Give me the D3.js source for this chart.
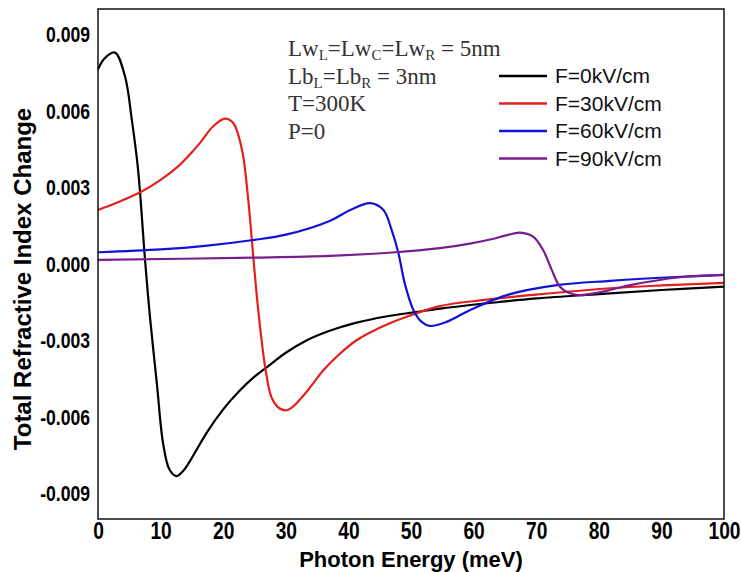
<!DOCTYPE html>
<html>
<head>
<meta charset="utf-8">
<script src="https://cdn.jsdelivr.net/npm/d3@7"></script>
<style>
  body { margin: 0; background: #fff; }
  svg { display: block; }
</style>
</head>
<body>
<div id="chart"></div>
<script>
var w = 741;
var h = 572;
var margin = {top: 9, right: 17, bottom: 53, left: 98};

// values (photon energy in meV, index change)
var e0 = [0, 1, 2.7, 4.3, 5.4, 6.4, 7.5, 8.3, 9.4, 10.4, 11.4, 12.5, 13.6, 15, 17.4, 20, 22.5, 25, 27.5, 30, 33.3, 37, 41.3, 46, 50.9, 55, 62.6, 70, 80, 90, 100];
var v0 = [0.00763, 0.00805, 0.00829, 0.00737, 0.00566, 0.0037, 0.0002, -0.00207, -0.00468, -0.00704, -0.00805, -0.00832, -0.00812, -0.0076, -0.0066, -0.0057, -0.0050, -0.00442, -0.00395, -0.00348, -0.00300, -0.00262, -0.00230, -0.00206, -0.00188, -0.00174, -0.00153, -0.00135, -0.00118, -0.00102, -0.00089];

var e30 = [0, 3, 6.9, 10, 12.8, 14.5, 16.3, 18.4, 20.3, 21.6, 23.0, 24.0, 24.8, 25.6, 26.7, 27.7, 28.7, 29.9, 31, 32.3, 33.2, 34, 36, 38.5, 41.3, 45, 49.3, 54.6, 62, 70, 81.8, 90, 100];
var v30 = [0.00212, 0.0024, 0.00283, 0.0033, 0.00383, 0.00425, 0.00475, 0.0054, 0.0057, 0.00553, 0.00448, 0.00252, 0.00029, -0.00181, -0.00404, -0.00522, -0.0056, -0.00574, -0.00562, -0.0053, -0.00505, -0.0048, -0.00417, -0.00355, -0.00299, -0.0025, -0.00207, -0.00165, -0.0014, -0.0012, -0.00095, -0.00084, -0.00074];

var e60 = [0, 10, 17.1, 24.8, 30, 37.1, 40.3, 43.5, 45.6, 46.9, 48.0, 49.0, 50.4, 51.7, 53.0, 55.7, 59.4, 65.3, 73.3, 81.8, 93.1, 100];
var v60 = [0.00046, 0.00057, 0.00071, 0.00094, 0.00115, 0.0017, 0.00212, 0.00239, 0.00212, 0.00134, 0.00042, -0.00076, -0.00181, -0.00227, -0.00243, -0.00227, -0.00181, -0.00122, -0.00083, -0.00066, -0.0005, -0.00043];

var e90 = [0, 24.8, 37.1, 47, 54.6, 59.4, 63, 65.3, 67.4, 69.5, 71.1, 72.5, 73.8, 75.4, 77, 79.7, 81.8, 85, 93, 100];
var v90 = [0.00016, 0.00025, 0.00032, 0.00045, 0.00062, 0.0008, 0.00098, 0.00113, 0.00123, 0.00107, 0.00055, -0.00024, -0.00089, -0.00115, -0.00122, -0.00113, -0.00102, -0.00083, -0.00052, -0.00043];

var seriesNames = ["F=0kV/cm", "F=30kV/cm", "F=60kV/cm", "F=90kV/cm"];
var seriesColors = ["#000000", "#e3201c", "#1212d6", "#7a1d8c"];
var xTicks = [0, 10, 20, 30, 40, 50, 60, 70, 80, 90, 100];
var yTicks = [-0.009, -0.006, -0.003, 0, 0.003, 0.006, 0.009];

var series = [[e0, v0], [e30, v30], [e60, v60], [e90, v90]].map(function(s, i) {
   return {
      name: seriesNames[i],
      color: seriesColors[i],
      points: s[0].map(function(e, j) { return {x: e, y: s[1][j]}; })
   };
});

var svg = d3.select("#chart")
            .append("svg")
            .attr("width", w)
            .attr("height", h);

var x = d3.scaleLinear().domain([0, 100]).range([margin.left, w - margin.right]);
var y = d3.scaleLinear().domain([-0.010, 0.010]).range([h - margin.bottom, margin.top]);

var fmtY = d3.format(".3f");

// x tick labels (narrow, tall digits)
svg.append("g")
   .attr("transform", "translate(0," + (h - margin.bottom) + ")")
   .call(d3.axisBottom(x).tickValues(xTicks).tickSize(0).tickPadding(3).tickFormat(d3.format("d")))
   .call(function(g) { g.select(".domain").remove(); })
   .selectAll("text")
   .attr("font-family", "Liberation Sans, Arial, sans-serif")
   .attr("font-weight", "bold")
   .attr("font-size", 24)
   .attr("transform", "scale(0.8,1)")
   .attr("fill", "#000");

// y tick labels
svg.append("g")
   .attr("transform", "translate(" + margin.left + ",0)")
   .call(d3.axisLeft(y).tickValues(yTicks).tickSize(0).tickPadding(10)
           .tickFormat(function(d) { return fmtY(d).replace("\u2212", "-"); }))
   .call(function(g) { g.select(".domain").remove(); })
   .selectAll("text")
   .attr("font-family", "Liberation Sans, Arial, sans-serif")
   .attr("font-weight", "bold")
   .attr("font-size", 22)
   .attr("transform", "scale(0.8,1)")
   .attr("fill", "#000");

var line = d3.line()
             .x(function(d) { return x(d.x); })
             .y(function(d) { return y(d.y); })
             .curve(d3.curveCatmullRom.alpha(0.5));

svg.append("g")
   .selectAll("path")
   .data(series)
   .join("path")
   .attr("d", function(d) { return line(d.points); })
   .attr("fill", "none")
   .attr("stroke", function(d) { return d.color; })
   .attr("stroke-width", 2.2);

// frame
svg.append("rect")
   .attr("x", margin.left)
   .attr("y", margin.top)
   .attr("width", w - margin.left - margin.right)
   .attr("height", h - margin.top - margin.bottom)
   .attr("fill", "none")
   .attr("stroke", "#111")
   .attr("stroke-width", 1.5);

// axis titles
svg.append("text")
   .attr("x", 411)
   .attr("y", 567)
   .attr("text-anchor", "middle")
   .attr("font-family", "Liberation Sans, Arial, sans-serif")
   .attr("font-weight", "bold")
   .attr("font-size", 22)
   .text("Photon Energy (meV)");

svg.append("text")
   .attr("transform", "translate(31,279) rotate(-90)")
   .attr("text-anchor", "middle")
   .attr("font-family", "Liberation Sans, Arial, sans-serif")
   .attr("font-weight", "bold")
   .attr("font-size", 24)
   .text("Total Refractive Index Change");

// parameter notes
var notes = [
   [["Lw", 0], ["L", 1], ["=Lw", 0], ["C", 1], ["=Lw", 0], ["R", 1], [" = 5nm", 0]],
   [["Lb", 0], ["L", 1], ["=Lb", 0], ["R", 1], [" = 3nm", 0]],
   [["T=300K", 0]],
   [["P=0", 0]]
];

notes.forEach(function(parts, i) {
   var t = svg.append("text")
              .attr("x", 288)
              .attr("y", 56 + i * 27.5)
              .attr("font-family", "Liberation Serif, Times New Roman, serif")
              .attr("font-size", 23)
              .attr("fill", "#333");
   var low = false;
   parts.forEach(function(p) {
      var span = t.append("tspan").text(p[0]);
      if (p[1] && !low) { span.attr("dy", 4).attr("font-size", 15); low = true; }
      else if (p[1]) { span.attr("font-size", 15); }
      else if (low) { span.attr("dy", -4); low = false; }
   });
});

// legend
var legend = svg.append("g")
                .selectAll("g")
                .data(series)
                .join("g")
                .attr("transform", function(d, i) { return "translate(499," + (76 + i * 27.5) + ")"; });

legend.append("line")
      .attr("x1", 0)
      .attr("x2", 48)
      .attr("stroke", function(d) { return d.color; })
      .attr("stroke-width", 2.5);

legend.append("text")
      .attr("x", 56)
      .attr("dy", "0.35em")
      .attr("font-family", "Liberation Sans, Arial, sans-serif")
      .attr("font-size", 21)
      .attr("fill", "#111")
      .text(function(d) { return d.name; });
</script>
</body>
</html>
